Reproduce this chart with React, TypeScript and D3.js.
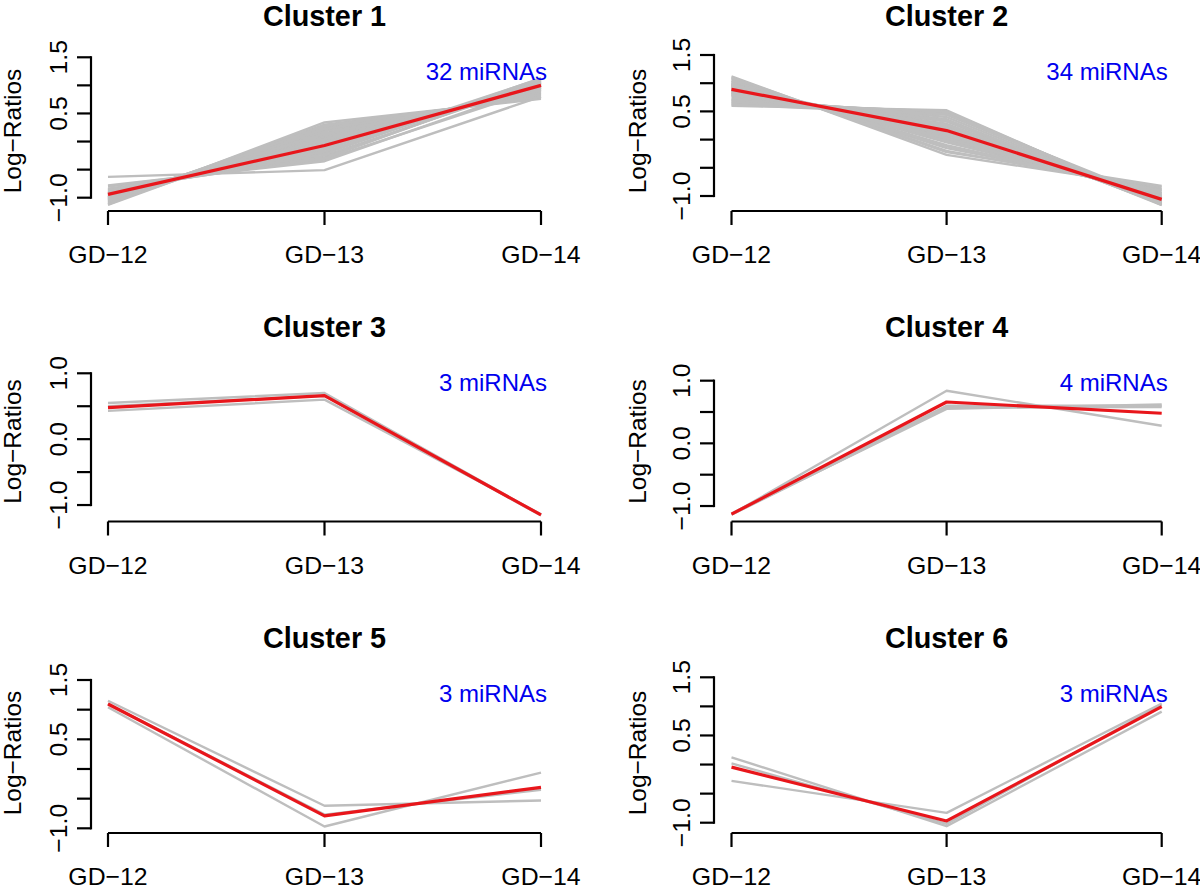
import React from 'react'
import * as d3 from 'd3'

const stages = ['GD\u221212', 'GD\u221213', 'GD\u221214']

// gray profiles, one row per miRNA: [GD-12, GD-13, GD-14]
const cluster1 = [
  [-0.63, -0.51, 0.80], [-0.80, -0.32, 0.95], [-0.85, -0.25, 1.05], [-0.88, -0.20, 1.10],
  [-0.90, -0.15, 1.12], [-0.92, -0.10, 1.06], [-0.93, -0.05, 1.02], [-0.95, 0.00, 0.98],
  [-0.97, 0.05, 0.95], [-0.98, 0.10, 0.92], [-1.00, 0.15, 0.88], [-1.02, 0.20, 0.85],
  [-1.05, 0.25, 0.82], [-1.08, 0.30, 0.78], [-1.12, 0.34, 0.76], [-0.86, -0.28, 1.08],
  [-0.89, -0.22, 1.13], [-0.91, -0.12, 1.04], [-0.94, -0.08, 1.00], [-0.96, -0.02, 1.01],
  [-0.99, 0.02, 0.97], [-1.01, 0.08, 0.93], [-1.03, 0.12, 0.90], [-1.06, 0.18, 0.87],
  [-1.10, 0.22, 0.83], [-0.84, -0.30, 1.11], [-0.87, -0.18, 1.07], [-0.95, -0.06, 1.03],
  [-1.00, 0.04, 0.96], [-1.04, 0.14, 0.91], [-1.13, 0.28, 0.80], [-0.78, -0.35, 1.00],
]
const cluster2 = [
  [1.12, -0.27, -0.85], [1.08, -0.20, -0.88], [1.05, -0.15, -0.90], [1.02, -0.10, -0.95],
  [1.00, -0.05, -0.98], [0.98, 0.00, -1.00], [0.96, 0.05, -1.02], [0.94, 0.08, -1.04],
  [0.92, 0.12, -1.05], [0.90, 0.15, -1.06], [0.88, 0.18, -1.08], [0.86, 0.22, -1.10],
  [0.84, 0.25, -1.12], [0.82, 0.28, -1.14], [0.80, 0.32, -1.15], [0.78, 0.36, -1.16],
  [0.75, 0.40, -1.13], [0.72, 0.44, -1.10], [0.68, 0.48, -1.12], [0.64, 0.50, -1.14],
  [0.60, 0.52, -1.16], [1.10, -0.22, -0.82], [1.04, -0.12, -0.92], [0.99, -0.02, -0.96],
  [0.95, 0.10, -1.03], [0.91, 0.14, -1.07], [0.87, 0.20, -1.09], [0.83, 0.26, -1.11],
  [0.79, 0.34, -1.13], [0.70, 0.46, -1.08], [0.66, 0.49, -1.15], [0.62, 0.45, -1.10],
  [0.97, 0.02, -1.01], [0.89, 0.17, -1.05],
]
const cluster3 = [[0.55, 0.70, -1.15], [0.50, 0.66, -1.16], [0.43, 0.60, -1.14]]
const cluster4 = [[-1.13, 0.84, 0.28], [-1.12, 0.60, 0.60], [-1.14, 0.57, 0.58], [-1.13, 0.55, 0.62]]
const cluster5 = [[1.15, -0.62, -0.53], [1.04, -0.97, -0.06], [1.10, -0.77, -0.35]]
const cluster6 = [[-0.28, -0.83, 1.05], [0.125, -1.06, 0.91], [0.02, -1.02, 1.03]]

// red centre profile of each cluster
const centers = [
  [-0.94, -0.07, 1.0],
  [0.89, 0.16, -1.06],
  [0.48, 0.66, -1.15],
  [-1.13, 0.66, 0.48],
  [1.095, -0.79, -0.31],
  [-0.045, -0.97, 0.997],
]
const counts = [32, 34, 3, 4, 3, 3]

const ticksWide = [-1, -0.5, 0, 0.5, 1, 1.5]
const labelsWide = [-1, 0.5, 1.5]
const ticksNarrow = [-1, -0.5, 0, 0.5, 1]
const labelsNarrow = [-1, 0, 1]

const clusters = [cluster1, cluster2, cluster3, cluster4, cluster5, cluster6]

// y limits of each panel (usr range)
const yLims = [
  [-1.237, 1.612],
  [-1.266, 1.571],
  [-1.25, 1.179],
  [-1.247, 1.306],
  [-1.079, 1.618],
  [-1.177, 1.574],
]

const cols = [
  { axis: 91, first: 108, last: 541, ylab: 20.5 },
  { axis: 714, first: 731.5, last: 1161.7, ylab: 646 },
]
const rowY = [0, 310.5, 622]
const font = '"Liberation Sans", Arial, Helvetica, sans-serif'
const fmt = d3.format('.1f')

function Panel({ i }: { i: number }) {
  const c = cols[i % 2]
  const top = rowY[Math.floor(i / 2)]
  const bottom = top + 211
  const x = d3.scalePoint().domain(stages).range([c.first, c.last])
  const y = d3.scaleLinear().domain(yLims[i]).range([bottom, top + 51])
  const line = d3.line<number>()
    .x((_, k) => x(stages[k]) as number)
    .y(d => y(d))
  const narrow = i === 2 || i === 3
  const ticks = narrow ? ticksNarrow : ticksWide
  const labels = narrow ? labelsNarrow : labelsWide
  const tickLen = 14
  const mid = (top + 51 + bottom) / 2

  return (
    <g fontFamily={font}>
      {clusters[i].map((d, k) => (
        <path key={k} d={line(d) || ''} fill="none" stroke="#bebebe" strokeWidth={2.4} strokeLinejoin="round" />
      ))}
      <path d={line(centers[i]) || ''} fill="none" stroke="#e8161b" strokeWidth={3.2} strokeLinejoin="round" />

      {/* x axis */}
      <line x1={c.first} x2={c.last} y1={bottom} y2={bottom} stroke="#000" strokeWidth={2.2} />
      {stages.map(s => (
        <g key={s}>
          <line x1={x(s)} x2={x(s)} y1={bottom} y2={bottom + tickLen} stroke="#000" strokeWidth={2.2} />
          <text x={x(s)} y={top + 263.3} fontSize={24.8} textAnchor="middle">{s}</text>
        </g>
      ))}

      {/* y axis */}
      <line x1={c.axis} x2={c.axis} y1={y(ticks[0])} y2={y(ticks[ticks.length - 1])} stroke="#000" strokeWidth={2.2} strokeLinecap="square" />
      {ticks.map(t => (
        <line key={t} x1={c.axis - tickLen} x2={c.axis} y1={y(t)} y2={y(t)} stroke="#000" strokeWidth={2.2} />
      ))}
      {labels.map(t => (
        <text key={t} transform={`translate(${c.axis - 24},${y(t)}) rotate(-90)`} fontSize={24.8} textAnchor="middle">
          {fmt(t)}
        </text>
      ))}
      <text transform={`translate(${c.ylab},${mid}) rotate(-90)`} fontSize={24.5} textAnchor="middle">
        Log{'\u2212'}Ratios
      </text>

      <text x={x(stages[1])} y={top + 26} fontSize={28.8} fontWeight="bold" textAnchor="middle">
        Cluster {i + 1}
      </text>
      <text x={c.last + 6} y={top + 80} fontSize={24} fill="#0000ee" textAnchor="end">
        {counts[i]} miRNAs
      </text>
    </g>
  )
}

export default function App() {
  return (
    <svg width={1200} height={889} style={{ display: 'block', position: 'absolute', left: 0, top: 0, background: '#fff' }}>
      <rect width={1200} height={889} fill="#fff" />
      {clusters.map((_, i) => <Panel key={i} i={i} />)}
    </svg>
  )
}
